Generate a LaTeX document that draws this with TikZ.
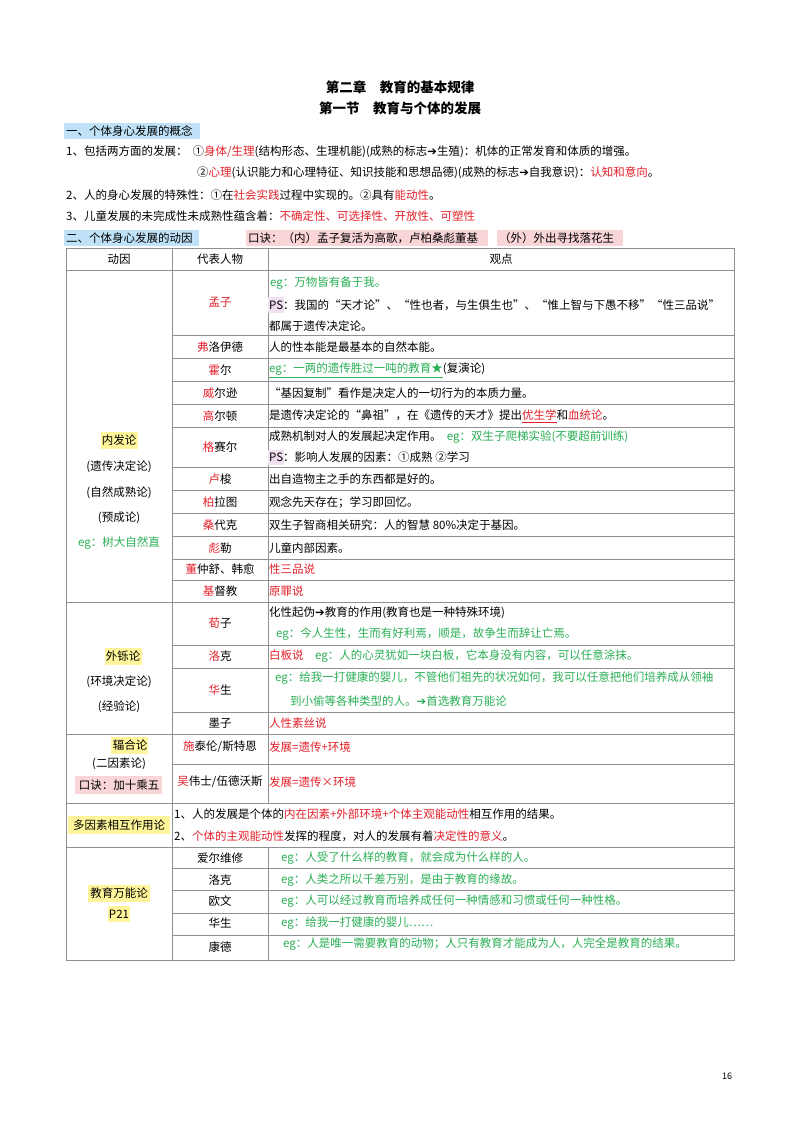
\documentclass[tikz,border=0pt]{standalone}
\usepackage{fontspec}
\setmainfont{Noto Sans CJK SC}
\newfontfamily\dv{DejaVu Sans}
\definecolor{rd}{HTML}{E3202A}
\definecolor{gn}{HTML}{2AAF55}
\definecolor{hb}{HTML}{BFE2F8}
\definecolor{hp}{HTML}{F9D5D8}
\definecolor{hy}{HTML}{FFF59A}
\definecolor{ln}{HTML}{909090}
\newcommand{\R}[1]{\textcolor{rd}{#1}}
\newcommand{\G}[1]{\textcolor{gn}{#1}}
\newcommand{\ar}{{\dv\char"2794}}
\begin{document}
\begin{tikzpicture}[x=1pt,y=-1pt,
  txt/.style={anchor=west,inner sep=0pt,font=\fontsize{11.5}{13}\selectfont},
  ctr/.style={anchor=center,inner sep=0pt,font=\fontsize{11.5}{13}\selectfont},
  ttl/.style={anchor=center,inner sep=0pt,font=\fontsize{13.5}{16}\selectfont\bfseries},
  grid/.style={draw=ln,line width=0.6pt}]
\useasboundingbox[fill=white] (0,0) rectangle (800,1130);
% titles
\node[ttl] (t1) at (400,87) {第二章\quad 教育的基本规律};
\node[ttl] (t2) at (400,108) {第一节\quad 教育与个体的发展};
\fill[hb] (64,123) rectangle (200,139);
\node[txt] (h1) at (66,131) {一、个体身心发展的概念};
\node[txt] (l1) at (66,152) {1、包括两方面的发展：\ \ ①\R{身体/生理}(结构形态、生理机能)(成熟的标志\ar 生殖)：机体的正常发育和体质的增强。};
\node[txt] (l2) at (197,173) {②\R{心理}(认识能力和心理特征、知识技能和思想品德)(成熟的标志\ar 自我意识)：\R{认知和意向}。};
\node[txt] (l3) at (66,195) {2、人的身心发展的特殊性：①在\R{社会实践}过程中实现的。②具有\R{能动性}。};
\node[txt] (l4) at (66,216) {3、儿童发展的未完成性未成熟性蕴含着：\R{不确定性、可选择性、开放性、可塑性}};
\fill[hb] (64,230) rectangle (199,246);
\fill[hp] (246,230) rectangle (488,246);
\fill[hp] (497,230) rectangle (623,246);
\node[txt] (h2) at (66,238) {二、个体身心发展的动因};
\node[txt] (k1) at (248,238) {口诀：（内）孟子复活为高歌，卢柏桑彪董基};
\node[txt] (k2) at (499,238) {（外）外出寻找落花生};
% grid
\draw[grid] (66,248) rectangle (734,960);
\foreach \y in {270,602,734,803,847} \draw[grid] (66,\y) -- (734,\y);
\foreach \y in {335,358,381,404,427,467,490,513,536,559,580,645,668,712,764,868,890,913,935} \draw[grid] (172,\y) -- (734,\y);
\draw[grid] (172,248) -- (172,960);
\draw[grid] (268,248) -- (268,803);
\draw[grid] (268,847) -- (268,960);
% header
\node[ctr] (c1) at (119,259) {动因};
\node[ctr] (c2) at (220,259) {代表人物};
\node[ctr] (c3) at (501,259) {观点};
% 内发论
\fill[hy] (101,432) rectangle (138,449);
\node[ctr] (n1) at (119,440) {内发论};
\node[ctr] (n2) at (119,467) {(遗传决定论)};
\node[ctr] (n3) at (119,493) {(自然成熟论)};
\node[ctr] (n4) at (119,518) {(预成论)};
\node[ctr] (n5) at (119,543) {\G{eg：树大自然直}};
\node[ctr] (p1) at (220,302) {\R{孟子}};
\node[txt] (v1a) at (270,283) {\G{eg：万物皆有备于我。}};
\fill[violet!12] (268,297) rectangle (284,313);
\node[txt] (v1b) at (269,305) {PS：我国的“天才论”、“性也者，与生俱生也”、“惟上智与下愚不移”“性三品说”};
\node[txt] (v1c) at (269,326) {都属于遗传决定论。};
\node[ctr] (p2) at (220,347) {\R{弗}洛伊德};
\node[txt] (v2) at (269,347) {人的性本能是最基本的自然本能。};
\node[ctr] (p3) at (220,370) {\R{霍}尔};
\node[txt] (v3) at (269,370) {\G{\underline{eg：一两的遗传胜过一吨的教育★}}(复演论)};
\node[ctr] (p4) at (220,393) {\R{威}尔逊};
\node[txt] (v4) at (269,393) {“基因复制”看作是决定人的一切行为的本质力量。};
\node[ctr] (p5) at (220,416) {\R{高}尔顿};
\node[txt] (v5) at (269,416) {是遗传决定论的“鼻祖”，在《遗传的天才》提出\R{\underline{优生学}}和\R{血统论}。};
\node[ctr] (p6) at (220,447) {\R{格}赛尔};
\node[txt] (v6a) at (269,437) {成熟机制对人的发展起决定作用。\ \ \G{eg：双生子爬梯实验(不要超前训练)}};
\fill[violet!12] (268,450) rectangle (284,465);
\node[txt] (v6b) at (269,457) {PS：影响人发展的因素：①成熟 ②学习};
\node[ctr] (p7) at (220,479) {\R{卢}梭};
\node[txt] (v7) at (269,479) {出自造物主之手的东西都是好的。};
\node[ctr] (p8) at (220,502) {\R{柏}拉图};
\node[txt] (v8) at (269,502) {观念先天存在；学习即回忆。};
\node[ctr] (p9) at (220,525) {\R{桑}代克};
\node[txt] (v9) at (269,525) {双生子智商相关研究：人的智慧 80\%决定于基因。};
\node[ctr] (p10) at (220,548) {\R{彪}勒};
\node[txt] (v10) at (269,548) {儿童内部因素。};
\node[ctr] (p11) at (220,569) {\R{董}仲舒、韩愈};
\node[txt] (v11) at (269,569) {\R{性三品说}};
\node[ctr] (p12) at (220,591) {\R{基}督教};
\node[txt] (v12) at (269,591) {\R{原罪说}};
% 外铄论
\fill[hy] (105,648) rectangle (142,665);
\node[ctr] (w1) at (123,656) {外铄论};
\node[ctr] (w2) at (119,682) {(环境决定论)};
\node[ctr] (w3) at (119,707) {(经验论)};
\node[ctr] (p13) at (220,623) {\R{荀}子};
\node[txt] (v13a) at (269,613) {化性起伪\ar 教育的作用(教育也是一种特殊环境)};
\node[txt] (v13b) at (276,634) {\G{eg：今人生性，生而有好利焉，顺是，故争生而辞让亡焉。}};
\node[ctr] (p14) at (220,656) {\R{洛}克};
\node[txt] (v14) at (269,656) {\R{白板说}\quad \G{eg：人的心灵犹如一块白板，它本身没有内容，可以任意涂抹。}};
\node[ctr] (p15) at (220,690) {\R{华}生};
\node[txt] (v15a) at (275,678) {\G{eg：给我一打健康的婴儿，不管他们祖先的状况如何，我可以任意把他们培养成从领袖}};
\node[txt] (v15b) at (290,701) {\G{到小偷等各种类型的人。\ar 首选教育万能论}};
\node[ctr] (p16) at (220,723) {墨子};
\node[txt] (v16) at (269,723) {\R{人性素丝说}};
% 辐合论
\fill[hy] (111,737) rectangle (148,754);
\node[ctr] (f1) at (130,745) {辐合论};
\node[ctr] (f2) at (119,764) {(二因素论)};
\fill[hp] (75,776) rectangle (162,794);
\node[ctr] (f3) at (119,785) {口诀：加十乘五};
\node[ctr] (p17) at (220,747) {\R{施}泰伦/斯特恩};
\node[txt] (v17) at (269,747) {\R{发展=遗传+环境}};
\node[ctr] (p18) at (220,782) {\R{吴}伟士/伍德沃斯};
\node[txt] (v18) at (269,782) {\R{发展=遗传×环境}};
% 多因素
\fill[hy] (68,816) rectangle (170,834);
\node[ctr] (d1) at (119,825) {多因素相互作用论};
\node[txt] (d2) at (174,814) {1、人的发展是个体的\R{内在因素+外部环境+个体主观能动性}相互作用的结果。};
\node[txt] (d3) at (174,836) {2、\R{个体的主观能动性}发挥的程度，对人的发展有着\R{决定性的意义}。};
% 教育万能论
\fill[hy] (88,885) rectangle (150,902);
\fill[hy] (108,906) rectangle (130,922);
\node[ctr] (e1) at (119,893) {教育万能论};
\node[ctr] (e2) at (119,914) {P21};
\node[ctr] (p19) at (220,858) {爱尔维修};
\node[txt] (v19) at (281,858) {\G{eg：人受了什么样的教育，就会成为什么样的人。}};
\node[ctr] (p20) at (220,880) {洛克};
\node[txt] (v20) at (281,880) {\G{eg：人类之所以千差万别，是由于教育的缘故。}};
\node[ctr] (p21) at (220,901) {欧文};
\node[txt] (v21) at (281,901) {\G{eg：人可以经过教育而培养成任何一种情感和习惯或任何一种性格。}};
\node[ctr] (p22) at (220,923) {华生};
\node[txt] (v22) at (281,923) {\G{eg：给我一打健康的婴儿……}};
\node[ctr] (p23) at (220,947) {康德};
\node[txt] (v23) at (283,944) {\G{eg：人是唯一需要教育的动物；人只有教育才能成为人，人完全是教育的结果。}};
\node[ctr,font=\fontsize{9}{11}\selectfont] (pg) at (727,1076) {16};
\end{tikzpicture}
\end{document}
